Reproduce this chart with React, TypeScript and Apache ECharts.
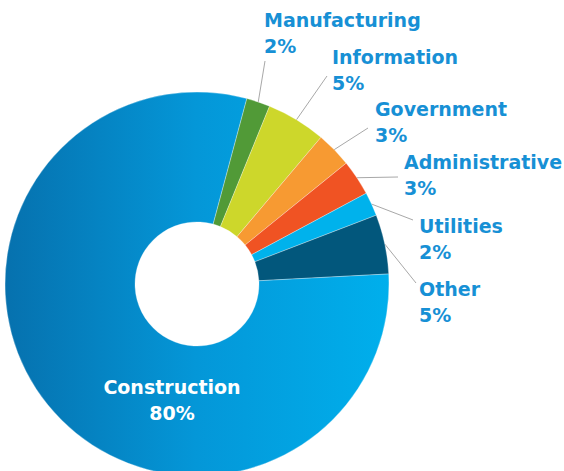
import React, { useEffect, useRef } from "react";
import * as echarts from "echarts";

const categories = ["Manufacturing", "Information", "Government", "Administrative", "Utilities", "Other", "Construction"];
const shares = [2, 5, 3, 3, 2, 5, 80];
const sliceColors = ["#519a37", "#cdd72b", "#f79a32", "#f05323", "#00b2ec", "#02577c", null];

// label block placement (left x, top y) and leader line end points
const labelSpots = [
  [264, 7], [332, 44], [375, 96], [404, 149], [419, 213], [419, 276], [172, 374],
];
const lineEnds = [
  [265, 61], [327, 76], [368, 128], [398, 177], [413, 220], [416, 283],
];

export default function App() {
  const ref = useRef<HTMLDivElement>(null);
  useEffect(() => {
    const chart = echarts.init(ref.current!, null, { renderer: "svg" });
    const constructionFill = {
      type: "linear", x: 0, y: 0, x2: 1, y2: 0,
      colorStops: [
        { offset: 0, color: "#0671ae" },
        { offset: 0.5, color: "#0497d8" },
        { offset: 1, color: "#00afec" },
      ],
    };
    const data = categories.map((name, i) => {
      const isMain = name === "Construction";
      return {
        name,
        value: shares[i],
        itemStyle: { color: isMain ? constructionFill : sliceColors[i] },
        label: isMain
          ? { color: "#ffffff", fontSize: 19 }
          : { color: "#1790d5", fontSize: 19 },
        labelLine: { show: !isMain },
      };
    });
    chart.setOption({
      animation: false,
      series: [
        {
          type: "pie",
          center: [197, 284],
          radius: [62, 192],
          startAngle: 75,
          clockwise: true,
          avoidLabelOverlap: false,
          data,
          itemStyle: { borderColor: "rgba(255,255,255,0.6)", borderWidth: 0.5 },
          label: {
            show: true,
            position: "outside",
            formatter: "{b}\n{c}%",
            fontFamily: "DejaVu Sans",
            fontWeight: "bold",
            lineHeight: 26,
          },
          labelLine: {
            show: true,
            length: 20,
            length2: 0,
            lineStyle: { color: "#a8a8a8", width: 1 },
          },
          labelLayout: (params: any) => {
            const i = params.dataIndex;
            const [x, y] = labelSpots[i];
            if (i === 6) {
              return { x, y, align: "center", verticalAlign: "top" };
            }
            const start = params.labelLinePoints ? params.labelLinePoints[0] : [x, y];
            return {
              x,
              y,
              align: "left",
              verticalAlign: "top",
              labelLinePoints: [start, lineEnds[i]],
            };
          },
        },
      ],
    });
    return () => chart.dispose();
  }, []);
  return (
    <div
      ref={ref}
      style={{ position: "absolute", left: 0, top: 0, width: 564, height: 471, background: "#ffffff" }}
    />
  );
}
